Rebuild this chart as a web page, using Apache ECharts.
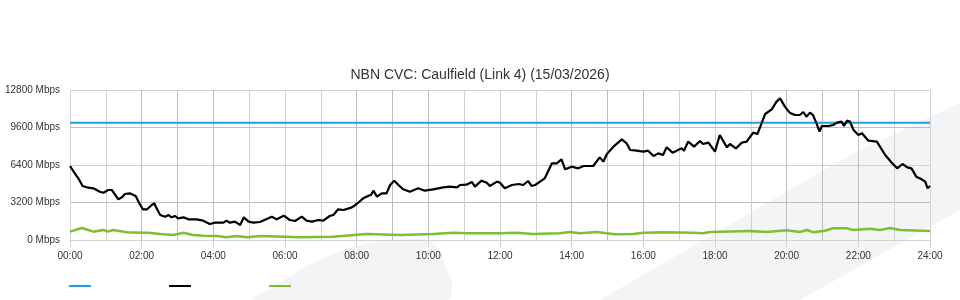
<!DOCTYPE html>
<html>
<head>
<meta charset="utf-8">
<script src="https://cdn.jsdelivr.net/npm/echarts@6/dist/echarts.min.js"></script>
<style>
html,body{margin:0;padding:0;background:#fff;}
#chart{width:960px;height:300px;}
</style>
</head>
<body>
<div id="chart"></div>
<script>
// ---- data (minutes since midnight, Mbps) ----
const chartTitle = 'NBN CVC: Caulfield (Link 4) (15/03/2026)';
const yTicks = [0, 3200, 6400, 9600, 12800];
const xTickHours = ['00:00','02:00','04:00','06:00','08:00','10:00','12:00','14:00','16:00','18:00','20:00','22:00','24:00'];

const capacityMin = [0, 1440];
const capacityMbps = [10000, 10000];

const trafficMin = [0, 8, 14, 21, 28, 39, 50, 56, 64, 70, 81, 87, 92, 100, 110, 116, 122, 129, 137, 141, 145, 151, 159, 165, 170, 176, 181, 190, 198, 212, 223, 234, 243, 257, 262, 268, 276, 285, 291, 299, 307, 318, 338, 346, 358, 368, 377, 388, 396, 405, 416, 424, 435, 441, 449, 458, 472, 480, 491, 500, 504, 508, 514, 522, 530, 536, 543, 550, 558, 569, 583, 594, 608, 625, 636, 648, 653, 664, 673, 678, 689, 698, 703, 715, 720, 728, 740, 751, 759, 767, 773, 779, 787, 795, 807, 815, 823, 829, 840, 851, 860, 876, 887, 893, 899, 910, 924, 932, 938, 949, 960, 968, 977, 985, 993, 999, 1009, 1024, 1028, 1035, 1045, 1055, 1060, 1069, 1080, 1088, 1100, 1105, 1115, 1125, 1133, 1144, 1151, 1158, 1164, 1175, 1183, 1189, 1197, 1205, 1214, 1222, 1228, 1233, 1239, 1244, 1250, 1255, 1259, 1270, 1278, 1284, 1292, 1296, 1301, 1306, 1312, 1320, 1326, 1337, 1351, 1365, 1376, 1385, 1394, 1402, 1409, 1417, 1426, 1432, 1436, 1440];
const trafficMbps = [6315, 5690, 5265, 4608, 4497, 4411, 4122, 4036, 4267, 4267, 3473, 3644, 3925, 3985, 3755, 3132, 2620, 2620, 2987, 3132, 2705, 2133, 1991, 2133, 1934, 2048, 1848, 1934, 1763, 1763, 1650, 1365, 1479, 1479, 1650, 1479, 1564, 1280, 1934, 1564, 1479, 1536, 1991, 1763, 2076, 1707, 1621, 1991, 1650, 1564, 1707, 1650, 2048, 2133, 2617, 2560, 2788, 3072, 3555, 3783, 3840, 4210, 3697, 3982, 3982, 4693, 5063, 4693, 4324, 4124, 4409, 4210, 4324, 4494, 4551, 4494, 4693, 4721, 4949, 4551, 5063, 4892, 4608, 4978, 4892, 4409, 4693, 4779, 4693, 5035, 4608, 4693, 4978, 5262, 6542, 6542, 6884, 6031, 6258, 6116, 6315, 6315, 7054, 6685, 7339, 7964, 8590, 8249, 7680, 7623, 7538, 7623, 7168, 7395, 7253, 7908, 7452, 7822, 7623, 8391, 7964, 8448, 8192, 8306, 7538, 8960, 7908, 8192, 7822, 8306, 8391, 9159, 9045, 9955, 10752, 11150, 11804, 12089, 11378, 10866, 10667, 10667, 10923, 10524, 10866, 10667, 9955, 9244, 9728, 9728, 9813, 10013, 10098, 9728, 10183, 10098, 9387, 8960, 9102, 8476, 8391, 7253, 6599, 6116, 6485, 6201, 6116, 5405, 5177, 4978, 4409, 4608];

const otherMin = [0, 20, 39, 56, 64, 72, 95, 121, 131, 151, 173, 190, 206, 223, 246, 262, 279, 296, 318, 360, 385, 440, 497, 553, 608, 641, 670, 720, 748, 775, 820, 837, 854, 882, 912, 943, 960, 993, 1044, 1060, 1072, 1139, 1166, 1200, 1222, 1234, 1245, 1264, 1278, 1300, 1312, 1340, 1356, 1373, 1390, 1440];
const otherMbps = [711, 1024, 711, 853, 711, 853, 654, 626, 626, 512, 427, 626, 427, 370, 341, 228, 341, 228, 341, 284, 228, 284, 512, 427, 512, 626, 569, 569, 626, 512, 569, 683, 569, 683, 500, 512, 626, 654, 626, 569, 683, 768, 683, 825, 683, 853, 654, 796, 996, 996, 853, 967, 853, 1024, 853, 768];

const seriesNames = ['Capacity', 'Traffic', 'Other'];
const seriesColors = ['#1ea2db', '#000000', '#7dbf33'];

function pairs(xs, ys) { return xs.map((x, i) => [x, ys[i]]); }

const FONT = '"Liberation Sans", Arial, sans-serif';
const light = '#d2d2d2', dark = '#bdbdbd';

const chart = echarts.init(document.getElementById('chart'), null, {renderer: 'canvas'});
chart.setOption({
  animation: false,
  backgroundColor: '#ffffff',
  textStyle: {fontFamily: FONT},
  title: {
    text: chartTitle, left: 'center', top: 63,
    textStyle: {fontFamily: FONT, fontSize: 14, fontWeight: 'normal', color: '#333'}
  },
  graphic: [
    {type: 'polygon', z: -10, silent: true,
     shape: {points: [[253,300],[275,286],[300,270],[330,255],[360,245],[385,240],[413,239],[430,241],[440,250],[445,265],[452,285],[447,300]], smooth: 0.3},
     style: {fill: '#f3f4f6'}},
    {type: 'polygon', z: -10, silent: true,
     shape: {points: [[600,300],[700,242],[767,203],[850,155],[960,103],[960,210],[800,300]]},
     style: {fill: '#f3f4f6'}}
  ],
  legend: {
    left: 64, top: 280, icon: 'rect', itemWidth: 22, itemHeight: 2, itemGap: 78,
    formatter: function () { return ''; },
    data: seriesNames,
    selectedMode: false
  },
  grid: {left: 70, right: 30, top: 90, bottom: 60, containLabel: false},
  xAxis: [
    {type: 'value', min: 0, max: 1440, interval: 60,
     axisLine: {show: true, lineStyle: {color: light}}, axisTick: {show: false}, axisLabel: {show: false},
     splitLine: {show: true, lineStyle: {color: [light, light, dark, dark, dark, light], width: 1}}},
    {type: 'value', position: 'bottom', min: 0, max: 1440, interval: 120,
     axisLine: {show: false},
     axisTick: {show: true, length: 8, lineStyle: {color: light}},
     axisLabel: {show: true, margin: 11, fontSize: 10, color: '#333', fontFamily: FONT,
       formatter: function (v) { return xTickHours[Math.round(v / 120)]; }},
     splitLine: {show: false}}
  ],
  yAxis: {
    type: 'value', min: yTicks[0], max: yTicks[yTicks.length - 1], interval: 3200,
    axisLine: {show: false}, axisTick: {show: false},
    axisLabel: {fontSize: 10, color: '#333', fontFamily: FONT, margin: 10,
      formatter: function (v) { return v + ' Mbps'; }},
    splitLine: {show: true, lineStyle: {color: [light, dark], width: 1}}
  },
  series: [
    {name: seriesNames[0], type: 'line', xAxisIndex: 0, data: pairs(capacityMin, capacityMbps),
     showSymbol: false, color: seriesColors[0], lineStyle: {width: 2, color: seriesColors[0]}, z: 3},
    {name: seriesNames[1], type: 'line', xAxisIndex: 0, data: pairs(trafficMin, trafficMbps),
     showSymbol: false, color: seriesColors[1], lineStyle: {width: 2.2, color: seriesColors[1]}, z: 4},
    {name: seriesNames[2], type: 'line', xAxisIndex: 0, data: pairs(otherMin, otherMbps),
     showSymbol: false, color: seriesColors[2], lineStyle: {width: 2.5, color: seriesColors[2]}, z: 3}
  ]
});
</script>
</body>
</html>
